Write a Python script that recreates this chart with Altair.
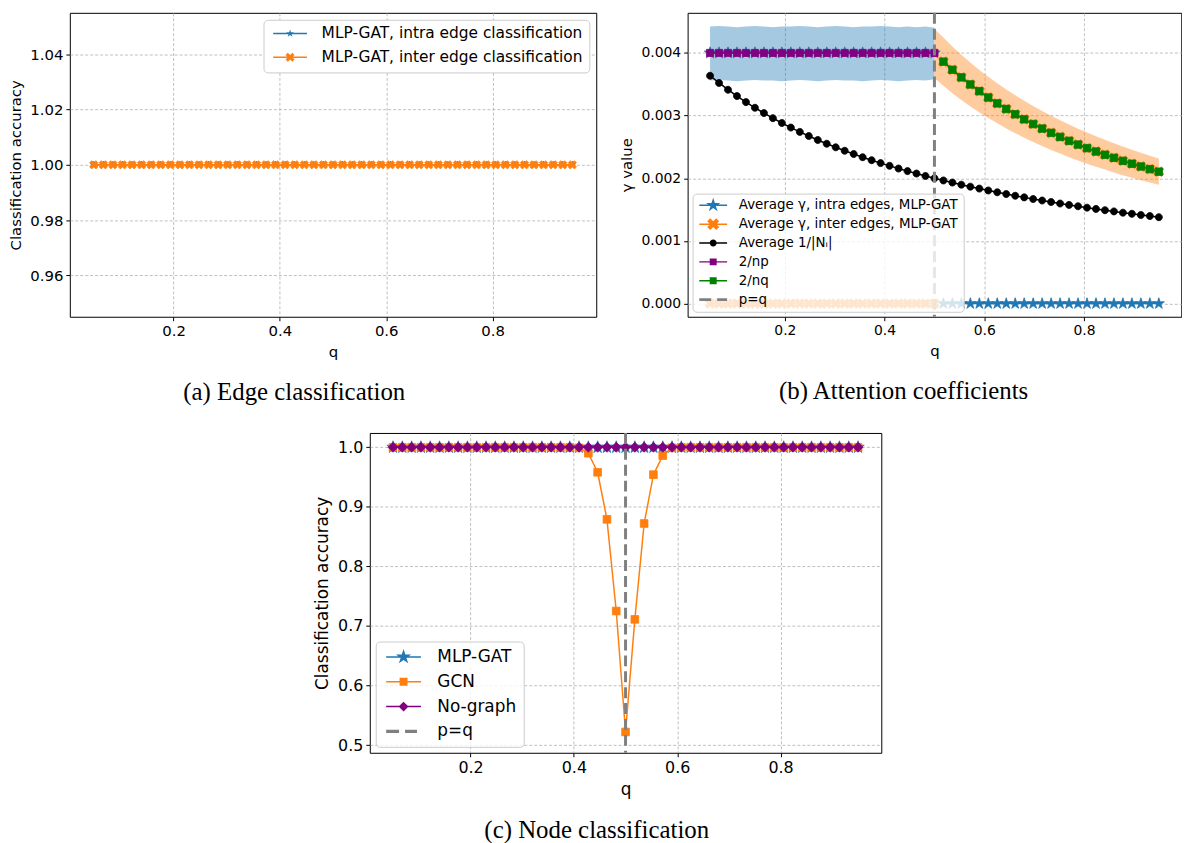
import math
import altair as alt
import pandas as pd

# ---------------- data ----------------
Q = [0.05, 0.068, 0.086, 0.104, 0.122, 0.14, 0.158, 0.176, 0.194, 0.212,
     0.23, 0.248, 0.266, 0.284, 0.302, 0.32, 0.338, 0.356, 0.374, 0.392,
     0.41, 0.428, 0.446, 0.464, 0.482, 0.5, 0.518, 0.536, 0.554, 0.572,
     0.59, 0.608, 0.626, 0.644, 0.662, 0.68, 0.698, 0.716, 0.734, 0.752,
     0.77, 0.788, 0.806, 0.824, 0.842, 0.86, 0.878, 0.896, 0.914, 0.932, 0.95]
P_EQ_Q = [0.5]

# (a) edge classification
EDGE_INTRA_ACC = [1.0] * 51
EDGE_INTER_ACC = [1.0] * 51

# (b) attention coefficients
Q_BELOW = Q[:26]          # q <= p
Q_ABOVE = Q[26:]          # q > p
Q_BAND_ABOVE = Q[25:]     # band drawn from q = p
GAMMA_INTRA_BELOW = [0.004] * 26
GAMMA_INTRA_ABOVE = [0.0] * 25
GAMMA_INTER_BELOW = [0.0] * 26
GAMMA_INTER_ABOVE = [0.003861, 0.003731, 0.003610, 0.003497, 0.003390, 0.003289,
                     0.003195, 0.003106, 0.003021, 0.002941, 0.002865, 0.002793,
                     0.002725, 0.002660, 0.002597, 0.002538, 0.002481, 0.002427,
                     0.002375, 0.002326, 0.002278, 0.002232, 0.002188, 0.002146, 0.002105]
BAND_INTRA_LO = [0.00356, 0.00357, 0.00356, 0.00355, 0.00356, 0.00357, 0.00356, 0.00356,
                 0.00355, 0.00356, 0.00357, 0.00356, 0.00355, 0.00356, 0.00357, 0.00356,
                 0.00356, 0.00355, 0.00356, 0.00357, 0.00356, 0.00355, 0.00356, 0.00357,
                 0.00356, 0.00358]
BAND_INTRA_HI = [0.00442, 0.00443, 0.00442, 0.00441, 0.00442, 0.00443, 0.00442, 0.00441,
                 0.00442, 0.00442, 0.00443, 0.00442, 0.00441, 0.00442, 0.00443, 0.00442,
                 0.00441, 0.00442, 0.00442, 0.00443, 0.00442, 0.00441, 0.00442, 0.00441,
                 0.00442, 0.00440]
BAND_INTER_LO = [0.00360, 0.003475, 0.003358, 0.003249, 0.003147, 0.003051, 0.002960,
                 0.002876, 0.002795, 0.002719, 0.002647, 0.002579, 0.002514, 0.002453,
                 0.002394, 0.002337, 0.002284, 0.002233, 0.002184, 0.002138, 0.002093,
                 0.002050, 0.002009, 0.001969, 0.001931, 0.001895]
BAND_INTER_HI = [0.00438, 0.004247, 0.004104, 0.003971, 0.003847, 0.003729, 0.003618,
                 0.003515, 0.003417, 0.003323, 0.003235, 0.003152, 0.003072, 0.002998,
                 0.002926, 0.002857, 0.002792, 0.002729, 0.002670, 0.002613, 0.002559,
                 0.002506, 0.002455, 0.002407, 0.002361, 0.002316]
INV_DEGREE = [0.003636, 0.003521, 0.003413, 0.003311, 0.003215, 0.003125, 0.003040,
              0.002959, 0.002882, 0.002809, 0.002740, 0.002674, 0.002611, 0.002551,
              0.002494, 0.002439, 0.002387, 0.002336, 0.002288, 0.002242, 0.002198,
              0.002155, 0.002114, 0.002075, 0.002037, 0.002000, 0.001965, 0.001931,
              0.001898, 0.001866, 0.001835, 0.001805, 0.001776, 0.001748, 0.001721,
              0.001695, 0.001669, 0.001645, 0.001621, 0.001597, 0.001575, 0.001553,
              0.001531, 0.001511, 0.001490, 0.001471, 0.001451, 0.001433, 0.001414,
              0.001397, 0.001379]
TWO_NP = [0.004] * 26
TWO_NQ = [0.003861, 0.003731, 0.003610, 0.003497, 0.003390, 0.003289,
          0.003195, 0.003106, 0.003021, 0.002941, 0.002865, 0.002793,
          0.002725, 0.002660, 0.002597, 0.002538, 0.002481, 0.002427,
          0.002375, 0.002326, 0.002278, 0.002232, 0.002188, 0.002146, 0.002105]

# (c) node classification
NODE_MLPGAT = [1.0] * 51
NODE_NOGRAPH = [1.0] * 51
NODE_GCN = [1.0, 1.0, 1.0, 1.0, 1.0, 1.0, 1.0, 1.0, 1.0, 1.0,
            1.0, 1.0, 1.0, 1.0, 1.0, 1.0, 1.0, 1.0, 1.0, 1.0,
            0.999, 0.990, 0.958, 0.879, 0.725, 0.522, 0.711, 0.872, 0.954, 0.986,
            0.999, 1.0, 1.0, 1.0, 1.0, 1.0, 1.0, 1.0, 1.0, 1.0,
            1.0, 1.0, 1.0, 1.0, 1.0, 1.0, 1.0, 1.0, 1.0, 1.0, 1.0]

BLUE = "#1f77b4"
ORANGE = "#ff7f0e"
PURPLE = "#800080"
GREEN = "#008000"
BLACK = "#000000"
GRAY = "#808080"

# ---------------- marker geometry (unit coordinates) ----------------
def fmt(v):
    return f"{v:.3f}"

def poly(pts):
    return "M" + " L".join(f"{fmt(x)},{fmt(y)}" for x, y in pts) + " Z"

def star_pts(r, cx=0.0):
    pts = []
    for k in range(10):
        a = math.radians(-90 + 36 * k)
        rr = r if k % 2 == 0 else r * 0.382
        pts.append((cx + rr * math.cos(a), rr * math.sin(a)))
    return pts

def xcross_pts(r, cx=0.0):
    t = 1.0 / 3.0
    base = [(-t, -1), (t, -1), (t, -t), (1, -t), (1, t), (t, t), (t, 1), (-t, 1),
            (-t, t), (-1, t), (-1, -t), (-t, -t)]
    c = math.cos(math.radians(45)); s = math.sin(math.radians(45))
    k = r / 0.943
    return [(cx + k * (x * c - y * s), k * (x * s + y * c)) for x, y in base]

def marker(kind, r, cx=0.0):
    if kind == "star":
        return poly(star_pts(r, cx))
    if kind == "x":
        return poly(xcross_pts(r, cx))
    if kind == "square":
        return poly([(cx - r, -r), (cx + r, -r), (cx + r, r), (cx - r, r)])
    if kind == "diamond":
        return poly([(cx, -r), (cx + r, 0), (cx, r), (cx - r, 0)])
    if kind == "circle":
        return (f"M{fmt(cx + r)},0 A{fmt(r)},{fmt(r)} 0 1,1 {fmt(cx - r)},0 "
                f"A{fmt(r)},{fmt(r)} 0 1,1 {fmt(cx + r)},0 Z")
    return ""

def rect(x0, x1, h):
    return poly([(x0, -h), (x1, -h), (x1, h), (x0, h)])

def handle(kind, r_px, unit, half_len, lw=1.5, dashes=None):
    """legend handle: line (or dashes) plus marker, in unit coords; left edge at -1"""
    left = -unit
    parts = []
    if dashes:
        for a, b in dashes:
            parts.append(rect((left + a) / unit, (left + b) / unit, lw / 2 / unit))
    else:
        parts.append(rect(left / unit, (left + 2 * half_len) / unit, lw / 2 / unit))
    if kind:
        parts.append(marker(kind, r_px / unit, (left + half_len) / unit))
    return " ".join(parts)

STAR = marker("star", 1.0)
XMARK = marker("x", 1.0)
SQUARE = marker("square", 1.0)
DIAMOND = marker("diamond", 1.0)
CIRCLE = marker("circle", 1.0)

GRID = dict(grid=True, gridColor="#b0b0b0", gridDash=[3, 2], gridWidth=0.8)
XSCALE = alt.Scale(domain=[0.005, 0.995], nice=False, zero=False)

def xaxis(fs, tfs):
    return alt.X("q:Q", title="q", scale=XSCALE,
                 axis=alt.Axis(values=[0.2, 0.4, 0.6, 0.8], format=".1f",
                               labelFontSize=fs, titleFontSize=tfs, **GRID))

def series_layers(xs, ys, color, shape, size, xenc, yenc, stroke_w=1.5):
    df = pd.DataFrame({"q": xs, "v": ys})
    base = alt.Chart(df)
    return [
        base.mark_line(color=color, strokeWidth=stroke_w).encode(x=xenc, y=yenc),
        base.mark_point(shape=shape, size=size, filled=True, fill=color, stroke=color,
                        strokeWidth=0.8, opacity=1).encode(x=xenc, y=yenc),
    ]

def legend_layer(field, names, paths, colors, first_x, first_y, xenc, yenc, leg):
    df = pd.DataFrame({field: names, "q": first_x, "v": first_y})
    return alt.Chart(df).mark_point(filled=True, opacity=0).encode(
        x=xenc, y=yenc,
        fill=alt.Fill(f"{field}:N", scale=alt.Scale(domain=names, range=colors), legend=leg),
        shape=alt.Shape(f"{field}:N", scale=alt.Scale(domain=names, range=paths), legend=leg),
    )

def make_legend(orient, font, unit, handle_len, gap, row_pad, pad, fill, offset=7):
    return alt.Legend(title=None, orient=orient, offset=offset, labelFontSize=font,
                      labelFont="DejaVu Sans", labelColor="black", symbolSize=(2 * unit) ** 2,
                      symbolOpacity=1, symbolStrokeWidth=0,
                      labelOffset=handle_len + gap - 2 * unit, rowPadding=row_pad,
                      padding=pad, fillColor=fill, strokeColor="#cccccc", cornerRadius=4,
                      labelLimit=400)

def caption(text, dx):
    return alt.TitleParams(text, orient="bottom", anchor="middle", font="Liberation Serif",
                           fontSize=25, fontWeight="normal", color="black", offset=21, dx=dx)

# ---------------- panel (a) ----------------
xa = xaxis(15, 15)
YSCALE_A = alt.Scale(domain=[0.945, 1.055], nice=False, zero=False)
ya = alt.Y("v:Q", title="Classification accuracy", scale=YSCALE_A,
           axis=alt.Axis(values=[0.96, 0.98, 1.0, 1.02, 1.04], format=".2f",
                         labelFontSize=15, titleFontSize=15, **GRID))
names_a = ["MLP-GAT, intra edge classification", "MLP-GAT, inter edge classification"]
ua = 4.0
paths_a = [handle("star", 4.0, ua, 17), handle("x", 4.5, ua, 17)]
leg_a = make_legend("top-right", 15.5, ua, 34, 11, 7, 6, "white")
layers_a = (series_layers(Q, EDGE_INTRA_ACC, BLUE, STAR, 50, xa, ya)
            + series_layers(Q, EDGE_INTER_ACC, ORANGE, XMARK, 70, xa, ya)
            + [legend_layer("sa", names_a, paths_a, [BLUE, ORANGE], [Q[0]] * 2, [1.0, 1.0], xa, ya, leg_a)])
panel_a = alt.layer(*layers_a).properties(width=530, height=306,
                                          title=caption("(a) Edge classification", -39))

# ---------------- panel (b) ----------------
xb = xaxis(14, 15)
YSCALE_B = alt.Scale(domain=[-0.00021, 0.00464], nice=False, zero=False)
yb = alt.Y("v:Q", title="γ value", scale=YSCALE_B,
           axis=alt.Axis(values=[0, 0.001, 0.002, 0.003, 0.004], format=".3f",
                         labelFontSize=14, titleFontSize=15, **GRID))
band_intra = alt.Chart(pd.DataFrame({"q": Q_BELOW, "lo": BAND_INTRA_LO, "hi": BAND_INTRA_HI})).mark_area(
    color=BLUE, opacity=0.4).encode(x=xb, y=alt.Y("lo:Q", scale=YSCALE_B), y2="hi:Q")
band_inter = alt.Chart(pd.DataFrame({"q": Q_BAND_ABOVE, "lo": BAND_INTER_LO, "hi": BAND_INTER_HI})).mark_area(
    color=ORANGE, opacity=0.4).encode(x=xb, y=alt.Y("lo:Q", scale=YSCALE_B), y2="hi:Q")
rule_b = alt.Chart(pd.DataFrame({"q": P_EQ_Q})).mark_rule(
    color=GRAY, strokeWidth=3, strokeDash=[11, 5]).encode(x=xb)

names_b = ["Average γ, intra edges, MLP-GAT", "Average γ, inter edges, MLP-GAT",
           "Average 1/|Nᵢ|", "2/np", "2/nq", "p=q"]
ub = 5.0
paths_b = [handle("star", 7.5, ub, 14), handle("x", 6.0, ub, 14), handle("circle", 3.5, ub, 14),
           handle("square", 3.5, ub, 14), handle("square", 3.5, ub, 14),
           handle(None, 0, ub, 14, lw=3, dashes=[(0, 12), (18, 28)])]
leg_b = make_legend("bottom-left", 13.5, ub, 28, 10, 4, 5, "rgba(255,255,255,0.8)", offset=5)
layers_b = ([band_intra, band_inter]
            + series_layers(Q_BELOW, GAMMA_INTRA_BELOW, BLUE, STAR, 150, xb, yb)
            + series_layers(Q_ABOVE, GAMMA_INTRA_ABOVE, BLUE, STAR, 140, xb, yb)
            + series_layers(Q_BELOW, GAMMA_INTER_BELOW, ORANGE, XMARK, 100, xb, yb)
            + series_layers(Q_ABOVE, GAMMA_INTER_ABOVE, ORANGE, XMARK, 100, xb, yb)
            + series_layers(Q, INV_DEGREE, BLACK, CIRCLE, 50, xb, yb)
            + series_layers(Q_BELOW, TWO_NP, PURPLE, SQUARE, 52, xb, yb)
            + series_layers(Q_ABOVE, TWO_NQ, GREEN, SQUARE, 56, xb, yb)
            + [rule_b,
               legend_layer("sb", names_b, paths_b, [BLUE, ORANGE, BLACK, PURPLE, GREEN, GRAY],
                            [Q[0]] * 6, [0.004] * 6, xb, yb, leg_b)])
panel_b = alt.layer(*layers_b).properties(width=497, height=306,
                                          title=caption("(b) Attention coefficients", -31))

# ---------------- panel (c) ----------------
xc = xaxis(16, 17)
YSCALE_C = alt.Scale(domain=[0.487, 1.024], nice=False, zero=False)
yc = alt.Y("v:Q", title="Classification accuracy", scale=YSCALE_C,
           axis=alt.Axis(values=[0.5, 0.6, 0.7, 0.8, 0.9, 1.0], format=".1f",
                         labelFontSize=16, titleFontSize=17, **GRID))
rule_c = alt.Chart(pd.DataFrame({"q": P_EQ_Q})).mark_rule(
    color=GRAY, strokeWidth=3, strokeDash=[11, 5]).encode(x=xc)
names_c = ["MLP-GAT", "GCN", "No-graph", "p=q"]
uc = 5.0
paths_c = [handle("star", 8.0, uc, 17.5), handle("square", 4.0, uc, 17.5),
           handle("diamond", 5.0, uc, 17.5),
           handle(None, 0, uc, 17.5, lw=3.3, dashes=[(0, 13), (19, 31)])]
leg_c = make_legend("bottom-left", 17, uc, 35, 13, 7, 7, "rgba(255,255,255,0.8)", offset=6)
layers_c = (series_layers(Q, NODE_MLPGAT, BLUE, STAR, 170, xc, yc)
            + series_layers(Q, NODE_GCN, ORANGE, SQUARE, 60, xc, yc)
            + series_layers(Q, NODE_NOGRAPH, PURPLE, DIAMOND, 100, xc, yc)
            + [rule_c,
               legend_layer("sc", names_c, paths_c, [BLUE, ORANGE, PURPLE, GRAY],
                            [Q[0]] * 4, [1.0] * 4, xc, yc, leg_c)])
panel_c = alt.layer(*layers_c).properties(width=515, height=322,
                                          title=caption("(c) Node classification", -29))

RES = dict(fill="independent", shape="independent", x="independent", y="independent")
top = alt.hconcat(panel_a, panel_b, spacing=22).resolve_scale(**RES).resolve_legend(
    fill="independent", shape="independent")
chart = alt.vconcat(top, panel_c, spacing=25, center=True).resolve_scale(**RES).resolve_legend(
    fill="independent", shape="independent").properties(
    padding={"left": 0, "top": 0, "right": 0, "bottom": 0}
).configure_view(stroke="black", strokeWidth=1).configure_axis(
    labelFont="DejaVu Sans", titleFont="DejaVu Sans",
    labelColor="black", titleColor="black", titleFontWeight="normal", domain=False,
    tickColor="black", tickSize=4, labelPadding=3, titlePadding=6
)

chart.save("out.html", embed_options={"renderer": "svg", "actions": False})
